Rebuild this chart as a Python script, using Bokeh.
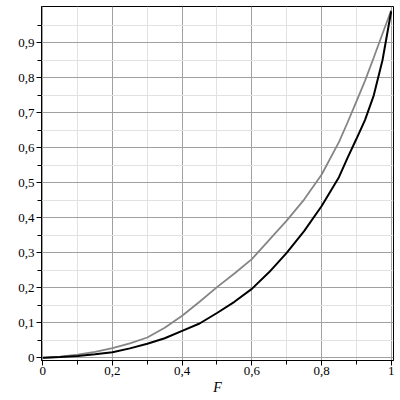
from bokeh.plotting import figure
from bokeh.models import FixedTicker, Range1d
from bokeh.embed import file_html
from bokeh.resources import INLINE

F = [0.0, 0.05, 0.1, 0.15, 0.2, 0.25, 0.3, 0.35, 0.4, 0.45, 0.5,
     0.55, 0.6, 0.65, 0.7, 0.75, 0.8, 0.85, 0.875, 0.9, 0.925, 0.95, 0.975, 1.0]
gray_curve = [0.0, 0.003, 0.009, 0.017, 0.028, 0.041, 0.058, 0.086, 0.12, 0.16, 0.202,
              0.241, 0.282, 0.337, 0.392, 0.452, 0.523, 0.616, 0.673, 0.732, 0.792, 0.858, 0.926, 0.993]
black_curve = [0.0, 0.002, 0.005, 0.01, 0.016, 0.027, 0.04, 0.056, 0.077, 0.098, 0.128,
               0.16, 0.197, 0.245, 0.3, 0.362, 0.433, 0.516, 0.572, 0.625, 0.68, 0.75, 0.85, 0.99]

x_ticks = [0.0, 0.2, 0.4, 0.6, 0.8, 1.0]
x_tick_labels = ["0", "0,2", "0,4", "0,6", "0,8", "1"]
x_minor = [0.1, 0.3, 0.5, 0.7, 0.9]
y_ticks = [0.0, 0.1, 0.2, 0.3, 0.4, 0.5, 0.6, 0.7, 0.8, 0.9]
y_tick_labels = ["0", "0,1", "0,2", "0,3", "0,4", "0,5", "0,6", "0,7", "0,8", "0,9"]
y_minor = [0.05, 0.15, 0.25, 0.35, 0.45, 0.55, 0.65, 0.75, 0.85, 0.95]

p = figure(width=400, height=400, output_backend="svg", toolbar_location=None,
           x_range=Range1d(-0.0037, 1.0066), y_range=Range1d(-0.0077, 1.0037),
           min_border_left=41, min_border_right=7, min_border_top=6, min_border_bottom=40)
p.background_fill_color = "white"
p.border_fill_color = "white"
p.outline_line_color = "black"
p.outline_line_width = 1

p.xaxis.ticker = FixedTicker(ticks=x_ticks, minor_ticks=x_minor)
p.yaxis.ticker = FixedTicker(ticks=y_ticks, minor_ticks=y_minor)
p.xaxis.major_label_overrides = dict(zip(x_ticks, x_tick_labels))
p.yaxis.major_label_overrides = dict(zip(y_ticks, y_tick_labels))

for ax in (p.xaxis[0], p.yaxis[0]):
    ax.axis_line_color = "black"
    ax.major_tick_line_color = "black"
    ax.minor_tick_line_color = "black"
    ax.major_tick_out = 5
    ax.major_tick_in = 0
    ax.minor_tick_out = 4
    ax.minor_tick_in = 0
    ax.major_label_text_font = "Liberation Serif"
    ax.major_label_text_font_size = "13px"
    ax.major_label_text_color = "black"
p.yaxis.major_label_standoff = 2
p.xaxis.major_label_standoff = 1

p.xaxis.axis_label = "F"
p.xaxis.axis_label_text_font = "Liberation Serif"
p.xaxis.axis_label_text_font_style = "italic"
p.xaxis.axis_label_text_font_size = "14px"
p.xaxis.axis_label_standoff = 2
p.xaxis.axis_label_text_color = "black"

p.xgrid.grid_line_color = "#a0a0a0"
p.ygrid.grid_line_color = "#a0a0a0"
p.xgrid.minor_grid_line_color = "#e2e2e2"
p.ygrid.minor_grid_line_color = "#e2e2e2"

p.line(F, gray_curve, line_color="#858585", line_width=1.8)
p.line(F, black_curve, line_color="black", line_width=2)

open("out.html", "w").write(file_html(p, INLINE))
